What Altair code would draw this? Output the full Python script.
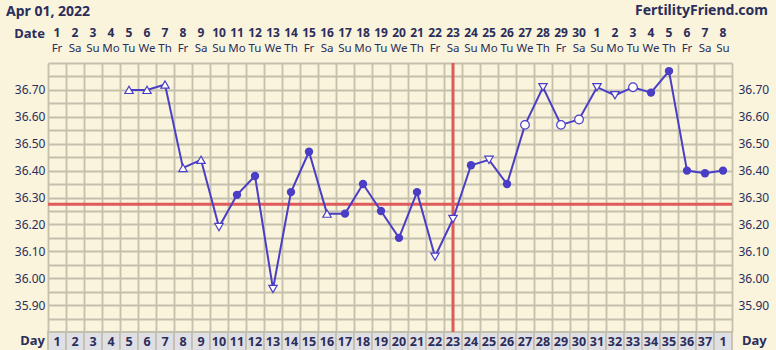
import altair as alt
import pandas as pd

# ---- data ----
days = list(range(1, 39))
date_nums = ["1", "2", "3", "4", "5", "6", "7", "8", "9", "10", "11", "12", "13", "14", "15",
             "16", "17", "18", "19", "20", "21", "22", "23", "24", "25", "26", "27", "28", "29", "30",
             "1", "2", "3", "4", "5", "6", "7", "8"]
weekdays = ["Fr", "Sa", "Su", "Mo", "Tu", "We", "Th", "Fr", "Sa", "Su", "Mo", "Tu", "We", "Th",
            "Fr", "Sa", "Su", "Mo", "Tu", "We", "Th", "Fr", "Sa", "Su", "Mo", "Tu", "We", "Th",
            "Fr", "Sa", "Su", "Mo", "Tu", "We", "Th", "Fr", "Sa", "Su"]
cycle_labels = ["1", "2", "3", "4", "5", "6", "7", "8", "9", "10", "11", "12", "13", "14", "15",
                "16", "17", "18", "19", "20", "21", "22", "23", "24", "25", "26", "27", "28", "29",
                "30", "31", "32", "33", "34", "35", "36", "37", "1"]

temp_days = [5, 6, 7, 8, 9, 10, 11, 12, 13, 14, 15, 16, 17, 18, 19, 20, 21, 22, 23, 24, 25,
             26, 27, 28, 29, 30, 31, 32, 33, 34, 35, 36, 37, 38]
temps = [36.70, 36.70, 36.72, 36.41, 36.44, 36.19, 36.31, 36.38, 35.96, 36.32, 36.47, 36.24,
         36.24, 36.35, 36.25, 36.15, 36.32, 36.08, 36.22, 36.42, 36.44, 36.35, 36.57, 36.71,
         36.57, 36.59, 36.71, 36.68, 36.71, 36.69, 36.77, 36.40, 36.39, 36.40]
markers = ["up", "up", "up", "up", "up", "down", "dot", "dot", "down", "dot", "dot", "up",
           "dot", "dot", "dot", "dot", "dot", "down", "down", "dot", "down", "dot", "circle",
           "down", "circle", "circle", "down", "down", "circle", "dot", "dot", "dot", "dot", "dot"]

coverline = [36.275]
ovulation_day = [23]

y_ticks = [35.80, 35.85, 35.90, 35.95, 36.00, 36.05, 36.10, 36.15, 36.20, 36.25, 36.30,
           36.35, 36.40, 36.45, 36.50, 36.55, 36.60, 36.65, 36.70, 36.75, 36.80]
x_grid = [0.5, 1.5, 2.5, 3.5, 4.5, 5.5, 6.5, 7.5, 8.5, 9.5, 10.5, 11.5, 12.5, 13.5, 14.5,
          15.5, 16.5, 17.5, 18.5, 19.5, 20.5, 21.5, 22.5, 23.5, 24.5, 25.5, 26.5, 27.5, 28.5,
          29.5, 30.5, 31.5, 32.5, 33.5, 34.5, 35.5, 36.5, 37.5, 38.5]

# ---- styling ----
FONT = "Noto Sans"
NAVY = "#2B2D5B"
LINE = "#4A3EC6"
RED = "#DF5A5A"
GRID = "#C5BFAE"
BG = "#F9F4DB"

temp_df = pd.DataFrame({"day": temp_days, "temp": temps, "marker": markers})
day_df = pd.DataFrame({"day": days, "date": date_nums, "wd": weekdays, "cd": cycle_labels})
day_df["x1"] = day_df["day"] - 0.5
day_df["x2"] = day_df["day"] + 0.5

xs = alt.Scale(domain=[0.5, 38.5], nice=False, zero=False)
ys = alt.Scale(domain=[35.80, 36.80], nice=False, zero=False)

label_expr = ("(round(datum.value*100) % 10 == 0 && datum.value > 35.85 && datum.value < 36.75)"
              " ? format(datum.value, '.2f') : ''")

base_t = alt.Chart(temp_df)

grid_layer = base_t.mark_point(opacity=0).encode(
    x=alt.X("day:Q", scale=xs,
            axis=alt.Axis(values=x_grid, labels=False, ticks=False, domain=False, grid=True,
                          gridColor=GRID, gridWidth=1.8, title=None, orient="bottom")),
    y=alt.Y("temp:Q", scale=ys,
            axis=alt.Axis(values=y_ticks, labelExpr=label_expr, ticks=False, domain=False,
                          grid=True, gridColor=GRID, gridWidth=1.8, title=None, orient="left",
                          labelPadding=3, labelFont=FONT, labelFontSize=12, labelColor=NAVY)),
)

right_axis = base_t.mark_point(opacity=0).encode(
    x=alt.X("day:Q", scale=xs, axis=None),
    y=alt.Y("temp:Q", scale=ys,
            axis=alt.Axis(values=y_ticks, labelExpr=label_expr, ticks=False, domain=False,
                          grid=False, title=None, orient="right", labelPadding=6,
                          labelFont=FONT, labelFontSize=12, labelColor=NAVY)),
)

cover = alt.Chart(pd.DataFrame({"c": coverline})).mark_rule(color=RED, strokeWidth=3).encode(
    y=alt.Y("c:Q", scale=ys, axis=None), x=alt.value(0), x2=alt.value(684))
ovul = alt.Chart(pd.DataFrame({"o": ovulation_day})).mark_rule(color=RED, strokeWidth=3).encode(
    x=alt.X("o:Q", scale=xs, axis=None), y=alt.value(0), y2=alt.value(269))

line = base_t.mark_line(color=LINE, strokeWidth=2).encode(
    x=alt.X("day:Q", scale=xs, axis=None), y=alt.Y("temp:Q", scale=ys, axis=None))

def pts(kind, **kw):
    return base_t.transform_filter(alt.datum.marker == kind).mark_point(**kw).encode(
        x=alt.X("day:Q", scale=xs, axis=None), y=alt.Y("temp:Q", scale=ys, axis=None))

dots = pts("dot", shape="circle", filled=True, color=LINE, size=70, opacity=1)
circles = pts("circle", shape="circle", filled=True, fill="white", stroke=LINE,
              strokeWidth=1.2, size=75, opacity=1)
ups = pts("up", shape="triangle-up", filled=True, fill="white", stroke=LINE,
          strokeWidth=1.2, size=70, opacity=1)
downs = pts("down", shape="triangle-down", filled=True, fill="white", stroke=LINE,
            strokeWidth=1.2, size=70, opacity=1)

base_d = alt.Chart(day_df)
day_cells = base_d.mark_rect(fill="#DFDFE6", stroke=GRID, strokeWidth=1.8).encode(
    x=alt.X("x1:Q", scale=xs, axis=None), x2="x2:Q",
    y=alt.value(269), y2=alt.value(288))
day_text = base_d.mark_text(font=FONT, fontSize=12.5, fontWeight="bold", color=NAVY,
                            baseline="middle").encode(
    x=alt.X("day:Q", scale=xs, axis=None), y=alt.value(279), text="cd:N")
date_text = base_d.mark_text(font=FONT, fontSize=12, fontWeight="bold", color=NAVY,
                             baseline="alphabetic").encode(
    x=alt.X("day:Q", scale=xs, axis=None), y=alt.value(-26), text="date:N")
wd_text = base_d.mark_text(font=FONT, fontSize=11.5, color=NAVY, baseline="alphabetic").encode(
    x=alt.X("day:Q", scale=xs, axis=None), y=alt.value(-11), text="wd:N")

lab_df = pd.DataFrame({"t": ["Apr 01, 2022"]})
title_l = alt.Chart(lab_df).mark_text(font=FONT, fontSize=14, fontWeight="bold", color=NAVY,
                                      align="left", baseline="alphabetic").encode(
    x=alt.value(-42), y=alt.value(-47), text="t:N")
site_df = pd.DataFrame({"t": ["FertilityFriend.com"]})
title_r = alt.Chart(site_df).mark_text(font=FONT, fontSize=14, fontWeight="bold", color=NAVY,
                                       align="right", baseline="alphabetic").encode(
    x=alt.value(720), y=alt.value(-48), text="t:N")
date_lbl = alt.Chart(pd.DataFrame({"t": ["Date"]})).mark_text(
    font=FONT, fontSize=13, fontWeight="bold", color=NAVY, align="right",
    baseline="alphabetic").encode(x=alt.value(-3), y=alt.value(-25), text="t:N")
day_lbl_l = alt.Chart(pd.DataFrame({"t": ["Day"]})).mark_text(
    font=FONT, fontSize=13, fontWeight="bold", color=NAVY, align="right",
    baseline="middle").encode(x=alt.value(-3), y=alt.value(278), text="t:N")
day_lbl_r = alt.Chart(pd.DataFrame({"t": ["Day"]})).mark_text(
    font=FONT, fontSize=13, fontWeight="bold", color=NAVY, align="left",
    baseline="middle").encode(x=alt.value(694), y=alt.value(278), text="t:N")

chart = alt.layer(
    grid_layer, right_axis, day_cells, cover, ovul, line, dots, circles, ups, downs,
    day_text, date_text, wd_text, title_l, title_r, date_lbl, day_lbl_l, day_lbl_r,
).resolve_axis(x="independent", y="independent").properties(
    width=684, height=269,
    autosize=alt.AutoSizeParams(type="none"),
    padding={"left": 48, "top": 63, "right": 44, "bottom": 18},
    background=BG,
).configure_view(stroke=None)

chart.save("out.html", embed_options={"renderer": "svg", "actions": False})
